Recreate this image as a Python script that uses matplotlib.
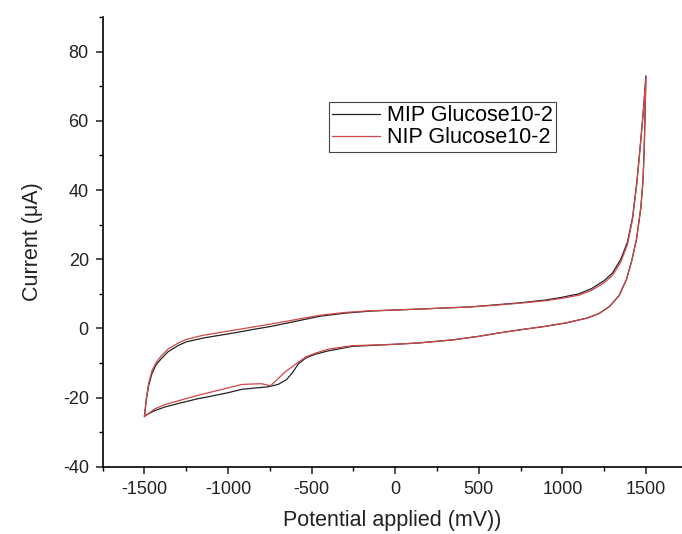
import matplotlib
matplotlib.use("Agg")
import matplotlib.pyplot as plt
from matplotlib.ticker import MultipleLocator

plt.rcParams['font.family'] = ['Liberation Sans', 'DejaVu Sans']
plt.rcParams['axes.unicode_minus'] = False

# cyclic voltammograms: forward (upper) branch then return (lower) branch
mip_potential = [-1500, -1490, -1475, -1455, -1430, -1400, -1360, -1300, -1250, -1150, -1050, -950,
                 -850, -750, -600, -450, -300, -150, 0, 150, 300, 450, 600, 750, 900, 1000, 1100,
                 1175, 1250, 1300, 1350, 1390, 1420, 1445, 1465, 1485, 1500,
                 1495, 1490, 1483, 1470, 1444, 1415, 1384, 1340, 1284, 1220, 1150, 1024, 900, 750,
                 624, 500, 350, 144, 0, -256, -400, -480, -536, -580, -616, -650, -700, -760, -850,
                 -916, -1000, -1100, -1176, -1280, -1376, -1440, -1500]
mip_current = [-25.3, -21.0, -16.5, -13.0, -10.5, -8.8, -6.8, -5.0, -3.9, -2.8, -2.0, -1.2,
               -0.3, 0.5, 2.0, 3.5, 4.4, 5.0, 5.3, 5.6, 5.9, 6.2, 6.8, 7.4, 8.2, 9.0, 10.0,
               11.5, 13.8, 16.0, 20.0, 25.0, 32.0, 42.0, 52.0, 63.0, 73.0,
               62.0, 52.0, 43.0, 35.0, 25.8, 19.5, 14.2, 9.5, 6.4, 4.3, 3.0, 1.6, 0.6, -0.4,
               -1.3, -2.3, -3.3, -4.2, -4.6, -5.2, -6.5, -7.5, -8.6, -10.3, -12.9, -14.8, -16.2, -16.9, -17.3,
               -17.6, -18.6, -19.6, -20.3, -21.5, -22.7, -23.8, -25.3]

nip_potential = [-1500, -1490, -1475, -1455, -1430, -1400, -1360, -1300, -1250, -1150, -1050, -950,
                 -850, -750, -600, -450, -300, -150, 0, 150, 300, 450, 600, 750, 900, 1000, 1100,
                 1175, 1250, 1300, 1350, 1390, 1420, 1445, 1465, 1485, 1500,
                 1495, 1490, 1483, 1470, 1444, 1415, 1384, 1340, 1284, 1220, 1150, 1024, 900, 750,
                 624, 500, 350, 144, 0, -256, -400, -480, -536, -600, -656, -700, -746, -800, -916,
                 -1000, -1100, -1176, -1280, -1376, -1440, -1500]
nip_current = [-25.5, -20.5, -15.8, -12.2, -9.8, -8.0, -6.0, -4.3, -3.2, -2.0, -1.2, -0.4,
               0.4, 1.2, 2.5, 3.8, 4.6, 5.1, 5.3, 5.6, 5.9, 6.2, 6.7, 7.3, 8.0, 8.7, 9.6,
               11.0, 13.2, 15.3, 19.2, 24.3, 31.5, 41.5, 52.0, 63.0, 72.5,
               62.0, 52.0, 43.0, 35.0, 25.8, 19.5, 14.2, 9.5, 6.4, 4.3, 3.0, 1.6, 0.6, -0.4,
               -1.3, -2.3, -3.3, -4.2, -4.6, -5.0, -6.0, -7.2, -8.3, -10.5, -12.5, -14.5, -16.6, -16.0, -16.2,
               -17.2, -18.4, -19.3, -20.7, -22.0, -23.3, -25.5]

fig = plt.figure(figsize=(6.82, 5.34), dpi=100)
ax = fig.add_axes([0.1506, 0.126, 0.8494, 0.842])

ax.plot(mip_potential, mip_current, color='#222222', lw=0.9, label='MIP Glucose10-2')
ax.plot(nip_potential, nip_current, color='#d0474a', lw=0.9, label='NIP Glucose10-2')

ax.set_xlim(-1750, 1716)
ax.set_ylim(-40, 90)
ax.xaxis.set_major_locator(MultipleLocator(500))
ax.xaxis.set_minor_locator(MultipleLocator(250))
ax.yaxis.set_major_locator(MultipleLocator(20))
ax.yaxis.set_minor_locator(MultipleLocator(10))
ax.tick_params(which='major', direction='out', length=5, width=1.1, labelsize=13,
               colors='#222222', pad=5)
ax.tick_params(which='minor', direction='out', length=3, width=1.0)

for side in ['top', 'right']:
    ax.spines[side].set_visible(False)
for side in ['left', 'bottom']:
    ax.spines[side].set_linewidth(1.2)

ax.set_xlabel('Potential applied (mV))', fontsize=15.5, color='#222222', labelpad=9)
ax.set_ylabel('Current (\u03bcA)', fontsize=15.5, color='#222222', labelpad=14)

leg = ax.legend(loc='upper left', bbox_to_anchor=(0.3906, 0.811), fontsize=15.5,
                frameon=True, fancybox=False, edgecolor='#444444', framealpha=1,
                handlelength=2.2, handletextpad=0.35, labelspacing=0.05, borderpad=0.15,
                borderaxespad=0)
leg.get_frame().set_linewidth(0.8)

plt.savefig("out.png", dpi=100)
